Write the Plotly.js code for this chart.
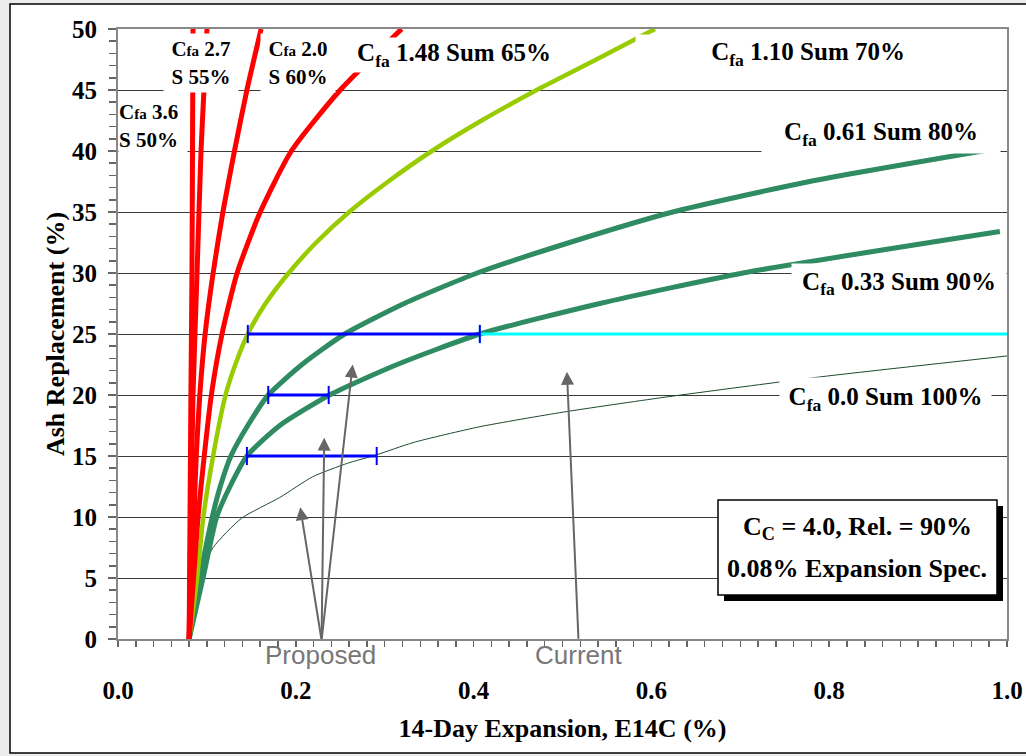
<!DOCTYPE html>
<html>
<head>
<meta charset="utf-8">
<script src="https://cdn.plot.ly/plotly-3.0.1.min.js"></script>
<style>
html,body{margin:0;padding:0;background:#ececec;}
#chart{width:1026px;height:756px;}
</style>
</head>
<body>
<div id="chart"></div>
<script>
// ---------------- data ----------------
const cfa36_x = [0.080, 0.081, 0.082, 0.0832, 0.0838, 0.0844];
const cfa36_y = [0, 10, 20, 30, 40, 50];

const cfa27_x = [0.080, 0.082, 0.0844, 0.0889, 0.0934, 0.0967, 0.1001];
const cfa27_y = [0, 10, 20, 30, 40, 45, 50];

const cfa20_x = [0.080, 0.083, 0.0855, 0.088, 0.092, 0.098, 0.107, 0.118, 0.131, 0.145, 0.161];
const cfa20_y = [0, 5, 10, 15, 20, 25, 30, 35, 40, 45, 50];

const cfa148_x = [0.080, 0.085, 0.090, 0.097, 0.105, 0.117, 0.134, 0.160, 0.195, 0.250, 0.319];
const cfa148_y = [0, 5, 10, 15, 20, 25, 30, 35, 40, 45, 50];

const cfa110_x = [0.080, 0.089, 0.096, 0.107, 0.121, 0.132, 0.146, 0.166, 0.192, 0.223, 0.260, 0.304, 0.353, 0.409, 0.471, 0.538, 0.604];
const cfa110_y = [0, 5, 10, 15, 20, 22.5, 25, 27.5, 30, 32.5, 35, 37.5, 40, 42.5, 45, 47.5, 50];

const cfa061_x = [0.080, 0.092, 0.106, 0.115, 0.127, 0.146, 0.169, 0.207, 0.255, 0.322, 0.404, 0.508, 0.624, 0.778, 0.989];
const cfa061_y = [0, 5, 10, 12.5, 15, 17.5, 20, 22.5, 25, 27.5, 30, 32.5, 35, 37.5, 40.2];

const cfa033_x = [0.080, 0.0956, 0.111, 0.126, 0.145, 0.182, 0.238, 0.314, 0.407, 0.542, 0.703, 0.992];
const cfa033_y = [0, 5, 10, 12.5, 15, 17.5, 20, 22.5, 25, 27.5, 30, 33.4];

const cfa00_x = [0.080, 0.092, 0.107, 0.139, 0.182, 0.219, 0.258, 0.291, 0.332, 0.407, 0.501, 0.613, 0.748, 0.803, 1.0];
const cfa00_y = [0, 5.1, 7.5, 9.9, 11.6, 13.3, 14.4, 15.1, 16.1, 17.4, 18.6, 19.8, 21.1, 21.6, 23.2];

// proposed ranges (blue) and current range (cyan)
const proposed25_x = [0.146, 0.407]; const proposed25_y = [25, 25];
const proposed20_x = [0.169, 0.237]; const proposed20_y = [20, 20];
const proposed15_x = [0.145, 0.291]; const proposed15_y = [15, 15];
const current25_x = [0.407, 1.0];   const current25_y = [25, 25];

// arrows: heads and tails
const proposedHeads_x = [0.205, 0.232, 0.264];
const proposedHeads_y = [10.8, 16.5, 22.5];
const proposedTail = [0.229, -0.1];
const currentHead = [0.505, 21.9];
const currentTail = [0.518, -0.1];

// tick settings
const xTickVals = [0, 0.2, 0.4, 0.6, 0.8, 1.0];
const yTickVals = [0, 5, 10, 15, 20, 25, 30, 35, 40, 45, 50];

// ---------------- styling helpers ----------------
const RED = '#ff0000', LIME = '#99cc00', GREEN = '#2e8b62', THIN = '#1d4a2c';
const BLUE = '#0000ff', CYAN = '#00ffff';
const SERIF = 'Liberation Serif, Times New Roman, serif';

function curve(x, y, color, width, name) {
  return {type:'scatter', mode:'lines', x:x, y:y, name:name, showlegend:false,
          hoverinfo:'skip', line:{color:color, width:width, shape:'spline', smoothing:0.6}};
}
function bar(x, y, color, name, tickSizes) {
  return {type:'scatter', mode:'lines+markers', x:x, y:y, name:name, showlegend:false,
          hoverinfo:'skip', line:{color:color, width:3},
          marker:{symbol:'line-ns', size:tickSizes || 13, color:color, line:{color:color, width:2}}};
}

const traces = [
  curve(cfa00_x, cfa00_y, THIN, 1, 'Cfa 0.0 Sum 100%'),
  curve(cfa033_x, cfa033_y, GREEN, 5, 'Cfa 0.33 Sum 90%'),
  curve(cfa061_x, cfa061_y, GREEN, 5, 'Cfa 0.61 Sum 80%'),
  curve(cfa110_x, cfa110_y, LIME, 4.5, 'Cfa 1.10 Sum 70%'),
  curve(cfa148_x, cfa148_y, RED, 5, 'Cfa 1.48 Sum 65%'),
  curve(cfa20_x, cfa20_y, RED, 5, 'Cfa 2.0 S 60%'),
  curve(cfa27_x, cfa27_y, RED, 5, 'Cfa 2.7 S 55%'),
  curve(cfa36_x, cfa36_y, RED, 5, 'Cfa 3.6 S 50%'),
  bar(current25_x, current25_y, CYAN, 'Current', [13, 0]),
  bar(proposed25_x, proposed25_y, BLUE, 'Proposed 25'),
  bar(proposed20_x, proposed20_y, BLUE, 'Proposed 20'),
  bar(proposed15_x, proposed15_y, BLUE, 'Proposed 15')
];

// plot-area pixel helpers for layout items
const L = 118, R = 1007, T = 29, B = 639;
const PX = px => (px - L) / (R - L);
const PY = py => (B - py) / (B - T);

function label(text, cx, cy, w, h, size, align) {
  return {xref:'paper', yref:'paper', x:PX(cx), y:PY(cy), xanchor:'center', yanchor:'middle',
          text:text, showarrow:false, bgcolor:'#ffffff', width:w, height:h, borderpad:0,
          align:align || 'center', valign:'middle',
          font:{family:SERIF, size:size, color:'#000', weight:'bold'}};
}
const fa = "<span style='font-size:15px'>fa</span>";

const annotations = [
  label('C' + fa + ' 3.6<br>S 50%', 153, 126, 68, 58, 21, 'left'),
  label('C' + fa + ' 2.7<br>S 55%', 201, 63, 74, 58, 21, 'center'),
  label('C' + fa + ' 2.0<br>S 60%', 298, 63, 74, 58, 21, 'center'),
  label('C<sub>fa</sub> 1.48 Sum 65%', 454, 55, 216, 34, 25),
  label('C<sub>fa</sub> 1.10 Sum 70%', 770, 54, 269, 38, 25, 'right'),
  label('C<sub>fa</sub> 0.61 Sum 80%', 881, 134, 238, 38, 25),
  label('C<sub>fa</sub> 0.33 Sum 90%', 899, 283, 214, 39, 25),
  label('C<sub>fa</sub> 0.0 Sum 100%', 885, 399, 211, 42, 25),
  // spec box text
  {xref:'paper', yref:'paper', x:PX(857), y:PY(528), xanchor:'center', yanchor:'middle', showarrow:false,
   text:'C<sub>C</sub> = 4.0, Rel. = 90%', font:{family:SERIF, size:26, color:'#000', weight:'bold'}},
  {xref:'paper', yref:'paper', x:PX(857), y:PY(568), xanchor:'center', yanchor:'middle', showarrow:false,
   text:'0.08% Expansion Spec.', font:{family:SERIF, size:26, color:'#000', weight:'bold'}},
  // Proposed / Current captions
  {xref:'paper', yref:'paper', x:PX(320), y:PY(655), xanchor:'center', yanchor:'middle', showarrow:false,
   text:'Proposed', font:{family:'Liberation Sans, Arial, sans-serif', size:26, color:'#777'}},
  {xref:'paper', yref:'paper', x:PX(578), y:PY(655), xanchor:'center', yanchor:'middle', showarrow:false,
   text:'Current', font:{family:'Liberation Sans, Arial, sans-serif', size:26, color:'#777'}}
];
// arrows
proposedHeads_x.forEach((hx, i) => {
  annotations.push({xref:'x', yref:'y', axref:'x', ayref:'y', x:hx, y:proposedHeads_y[i],
    ax:proposedTail[0], ay:proposedTail[1], text:'', showarrow:true, arrowhead:2, arrowsize:1.3,
    arrowwidth:2, arrowcolor:'#666', standoff:0, startstandoff:0});
});
annotations.push({xref:'x', yref:'y', axref:'x', ayref:'y', x:currentHead[0], y:currentHead[1],
  ax:currentTail[0], ay:currentTail[1], text:'', showarrow:true, arrowhead:2, arrowsize:1.3,
  arrowwidth:2, arrowcolor:'#666', standoff:0, startstandoff:0});

const shapes = [
  // slide frame
  {type:'rect', xref:'paper', yref:'paper', layer:'below', x0:PX(10), x1:PX(1040), y0:PY(753), y1:PY(4),
   fillcolor:'#ffffff', line:{color:'#000', width:1.5}},
  // spec box shadow + box
  {type:'rect', xref:'paper', yref:'paper', layer:'above', x0:PX(724), x1:PX(1003), y0:PY(601), y1:PY(506),
   fillcolor:'#000', line:{width:0}},
  {type:'rect', xref:'paper', yref:'paper', layer:'above', x0:PX(718), x1:PX(997), y0:PY(595), y1:PY(500),
   fillcolor:'#fff', line:{color:'#000', width:1.5}}
];

const layout = {
  width:1026, height:756,
  margin:{l:L, r:1026 - R, t:T, b:756 - B, pad:0},
  paper_bgcolor:'#ececec', plot_bgcolor:'rgba(0,0,0,0)',
  showlegend:false,
  xaxis:{range:[0, 1], tickvals:xTickVals, tickformat:'.1f', ticks:'outside', ticklen:6, tickwidth:1.5,
         tickcolor:'#666', showline:true, linecolor:'#888', linewidth:2, mirror:true,
         showgrid:false, zeroline:false, ticklabelstandoff:22,
         minor:{dtick:0.02, ticks:'outside', ticklen:6, tickwidth:1.5, tickcolor:'#666', showgrid:false},
         tickfont:{family:SERIF, size:25, color:'#000', weight:'bold'},
         title:{text:'14-Day Expansion, E14C (%)', standoff:16,
                font:{family:SERIF, size:26, color:'#000', weight:'bold'}}},
  yaxis:{range:[0, 50], tickvals:yTickVals, ticks:'outside', ticklen:8, tickwidth:1.5, tickcolor:'#666',
         showline:true, linecolor:'#888', linewidth:2, mirror:true,
         showgrid:true, gridcolor:'#3a3a3a', gridwidth:1, zeroline:false, ticklabelstandoff:6,
         minor:{dtick:1, ticks:'outside', ticklen:7, tickwidth:1.5, tickcolor:'#666', showgrid:false},
         tickfont:{family:SERIF, size:25, color:'#000', weight:'bold'},
         title:{text:'Ash Replacement (%)', standoff:0,
                font:{family:SERIF, size:26, color:'#000', weight:'bold'}}},
  annotations:annotations,
  shapes:shapes
};

Plotly.newPlot('chart', traces, layout, {staticPlot:true, displayModeBar:false});
</script>
</body>
</html>
